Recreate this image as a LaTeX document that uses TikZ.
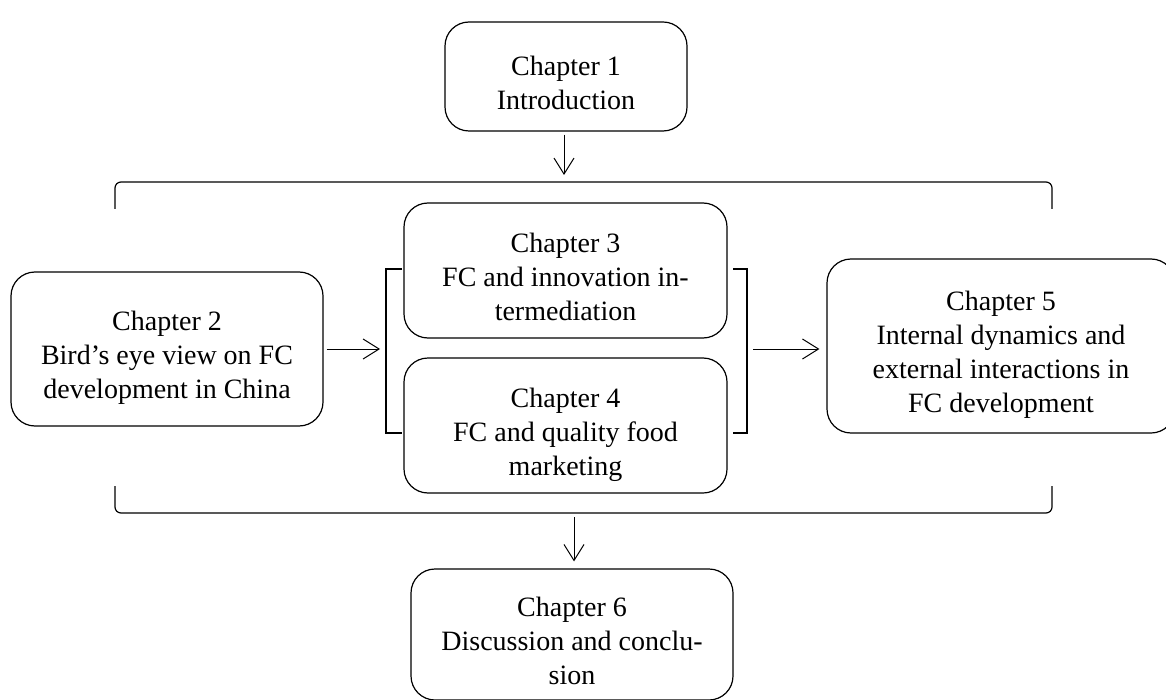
\documentclass[tikz,border=0pt]{standalone}
\usepackage{fontspec}
\setmainfont{Liberation Serif}
\usetikzlibrary{arrows.meta}
\newcommand{\lowtext}[1]{\raisebox{-4.5pt}[\height][\depth]{\begin{tabular}{@{}c@{}}#1\end{tabular}}}
\tikzset{
  chbox/.style={draw, line width=0.6pt, rounded corners=12pt,
    inner sep=0pt, font=\fontsize{14pt}{17pt}\selectfont},
  arr/.style={line width=0.5pt, -{Straight Barb[length=8pt,width=10pt,line width=0.5pt]}},
  brk/.style={line width=0.6pt}
}
\begin{document}
\begin{tikzpicture}[x=0.5pt,y=-0.5pt]
\useasboundingbox (0,0) rectangle (1166,700);
% boxes
\node[chbox, minimum width=121pt, minimum height=54.5pt] (c1) at (566,76.5) {\lowtext{Chapter 1\\Introduction}};
\node[chbox, minimum width=156pt, minimum height=77pt] (c2) at (167,349) {\lowtext{Chapter 2\\Bird’s eye view on FC\\development in China}};
\node[chbox, minimum width=161.5pt, minimum height=67.5pt] (c3) at (565.5,270.5) {\lowtext{Chapter 3\\FC and innovation in-\\termediation}};
\node[chbox, minimum width=161.5pt, minimum height=67.5pt] (c4) at (565.5,425.5) {\lowtext{Chapter 4\\FC and quality food\\marketing}};
\node[chbox, minimum width=174pt, minimum height=87pt] (c5) at (1001,346) {\lowtext{Chapter 5\\Internal dynamics and\\external interactions in\\FC development}};
\node[chbox, minimum width=161pt, minimum height=65.5pt] (c6) at (572,634.5) {\lowtext{Chapter 6\\Discussion and conclu-\\sion}};
% bracket reference points
\coordinate (tb) at (564,182);
\coordinate (bb) at (574,513);
\coordinate (lb) at (386,349);
\coordinate (rb) at (747,349);
% outer brackets
\draw[brk, rounded corners=3pt] (115,209) -- (115,182) -- (1052,182) -- (1052,209);
\draw[brk, rounded corners=3pt] (115,486) -- (115,513) -- (1052,513) -- (1052,486);
% inner brackets
\draw[brk] (402,269) -- (386,269) -- (386,433) -- (402,433);
\draw[brk] (733,269) -- (747,269) -- (747,433) -- (733,433);
% arrows
\draw[arr, shorten <=1.5pt, shorten >=3.5pt] (c1.south -| tb) -- (tb);
\draw[arr, shorten <=1.5pt, shorten >=3pt] (c2.east) -- (lb);
\draw[arr, shorten <=3pt, shorten >=3.5pt] (rb) -- (rb -| c5.west);
\draw[arr, shorten <=2pt, shorten >=3.5pt] (bb) -- (bb |- c6.north);
\end{tikzpicture}
\end{document}
